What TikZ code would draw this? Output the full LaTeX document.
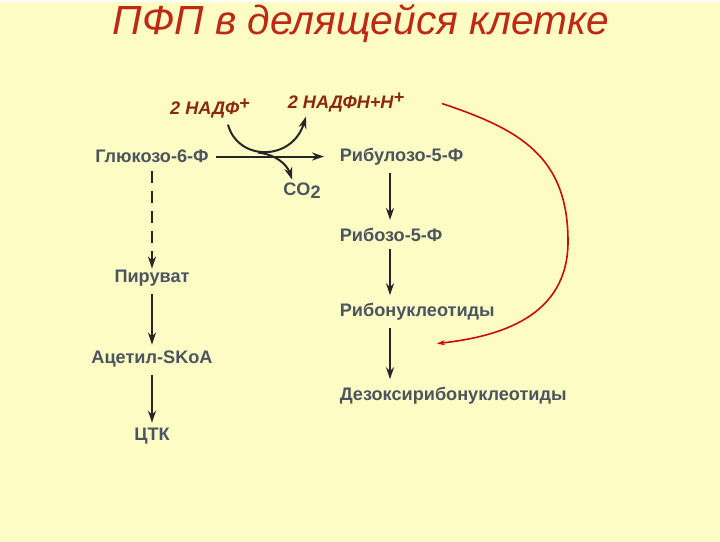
\documentclass[tikz,border=0pt]{standalone}
\usepackage{fontspec}
\setmainfont{Liberation Sans}
\usetikzlibrary{arrows.meta,calc}
\definecolor{paper}{RGB}{253,252,196}
\definecolor{ttl}{RGB}{190,40,20}
\definecolor{nad}{RGB}{140,40,15}
\definecolor{met}{RGB}{75,85,95}
\definecolor{fbk}{RGB}{205,10,10}

\tikzset{every picture/.style={line width=0.75pt}}
\tikzset{
  metab/.style={font=\fontsize{13.6}{15}\selectfont\bfseries, text=met, inner sep=1pt},
  cofac/.style={font=\fontsize{13.6}{15}\selectfont\bfseries\itshape, text=nad, inner sep=1pt},
  step arrow/.style={draw=black!85, line width=1.5, -{Stealth[length=9pt,width=6pt]}},
}
\newcommand{\plussup}{\raisebox{0.45ex}{+}}

\begin{document}
\begin{tikzpicture}[x=0.75pt,y=0.75pt,yscale=-1,xscale=1]
	%background, 720 x 540
	\fill[paper] (0,0) rectangle (720,540);

	% Title
	\node (title) [font=\fontsize{30.5}{36}\selectfont\itshape, text=ttl] at (361,22) {ПФП в делящейся клетке};

	% Left column
	\node (g6p) [metab] at (152,155) {Глюкозо-6-Ф};
	\node (pyr) [metab] at (152,277) {Пируват};
	\node (acoa) [metab] at (152,357) {Ацетил-SKoA};
	\node (tca) [metab] at (152,435) {ЦТК};

	% Right column
	\node (ru5p) [metab, anchor=west] at (338,155) {Рибулозо-5-Ф};
	\node (r5p) [metab, anchor=west] at (338,233) {Рибозо-5-Ф};
	\node (rnt) [metab, anchor=west] at (338,310) {Рибонуклеотиды};
	\node (dnt) [metab, anchor=west] at (338,394) {Дезоксирибонуклеотиды};

	% Cofactors
	\node (nadp) [cofac] at (210,107) {2 НАДФ\plussup};
	\node (nadph) [cofac] at (346,101) {2 НАДФН+Н\plussup};
	\node (co2) [metab] at (302,189) {CO\raisebox{-0.35ex}{2}};

	% Points on the arrows
	\coordinate (mid) at (258,151);
	\coordinate (fbin) at (442,102);
	\coordinate (fbout) at (437,342);

	% Main oxidative step
	\draw[step arrow] ($(g6p.east)+(5,0)$) -- ($(ru5p.west)+(-14,0)$);
	\draw[step arrow] ($(nadp.south)+(18,5)$) .. controls (238,160) and (292,160) .. (306,115);
	\draw[step arrow] (mid) .. controls (276,153) and (287,163) .. (292,178);

	% Left path
	\draw[step arrow, dash pattern=on 9pt off 6pt] ($(g6p.south)+(0,6)$) -- (pyr.north);
	\draw[step arrow] ($(pyr.south)+(0,6)$) -- ($(acoa.north)+(0,-4)$);
	\draw[step arrow] ($(acoa.south)+(0,6)$) -- ($(tca.north)+(0,-4)$);

	% Right path
	\draw[step arrow] ($(ru5p.south west)+(52,6)$) -- ($(r5p.north west)+(52,-6)$);
	\draw[step arrow] ($(r5p.south west)+(52,6)$) -- ($(rnt.north west)+(52,-6)$);
	\draw[step arrow] ($(rnt.south west)+(52,6)$) -- ($(dnt.north west)+(52,-6)$);

	% NADPH feedback
	\draw[fbk, line width=1.2, -{Stealth[length=6pt,width=4pt]}] (fbin) .. controls (520,128) and (568,155) .. (568,240) .. controls (568,315) and (500,335) .. (fbout);
\end{tikzpicture}
\end{document}
